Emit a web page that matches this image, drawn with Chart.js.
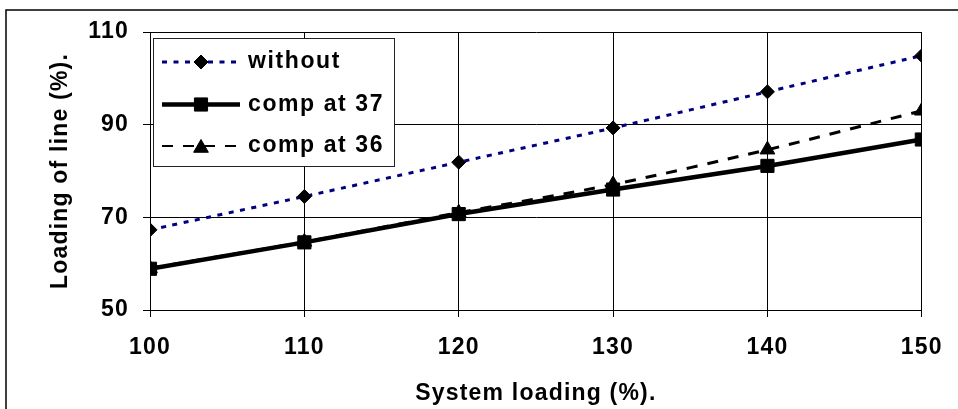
<!DOCTYPE html>
<html><head><meta charset="utf-8">
<script src="https://cdn.jsdelivr.net/npm/chart.js@4"></script>
<style>html,body{margin:0;padding:0;background:#fff;overflow:hidden}#wrap{width:958px;height:409px;position:relative}</style>
</head><body><div id="wrap"><canvas id="c" width="958" height="409"></canvas></div>
<script>
const systemLoading = [100, 110, 120, 130, 140, 150];
const withoutComp = [67.3, 74.5, 81.9, 89.3, 97.1, 104.9];
const compAt37 = [58.9, 64.6, 70.7, 76.0, 81.1, 86.8];
const compAt36 = [59.0, 64.7, 71.0, 77.1, 84.6, 93.0];
const seriesNames = ['without', 'comp at 37', 'comp at 36'];
const xAxisTitle = 'System loading (%).';
const yAxisTitle = 'Loading of line (%).';

const FONT = "'Liberation Sans', Arial, sans-serif";
const pts = arr => systemLoading.map((x, i) => ({x: x, y: arr[i]}));

const legendPlugin = {
  id: 'boxLegend',
  afterDraw(chart) {
    const ctx = chart.ctx;
    ctx.save();
    // outer frame
    ctx.strokeStyle = '#000';
    ctx.lineWidth = 1.5;
    ctx.setLineDash([]);
    ctx.beginPath();
    ctx.moveTo(6, 409); ctx.lineTo(6, 10); ctx.lineTo(958, 10);
    ctx.stroke();
    // legend box
    const bx = 153, by = 38, bw = 241, bh = 128;
    ctx.fillStyle = '#fff';
    ctx.fillRect(bx, by, bw, bh);
    ctx.strokeStyle = '#222';
    ctx.lineWidth = 1;
    ctx.strokeRect(bx + 0.5, by + 0.5, bw, bh);
    const rows = [62, 104.5, 146];
    chart.data.datasets.forEach((ds, i) => {
      const y = rows[i];
      ctx.save();
      ctx.strokeStyle = ds.borderColor;
      ctx.lineWidth = ds.legendLineWidth || ds.borderWidth;
      ctx.setLineDash(ds.borderDash || []);
      ctx.beginPath();
      ctx.moveTo(162, y); ctx.lineTo(240, y);
      ctx.stroke();
      ctx.restore();
      ctx.fillStyle = '#000';
      ctx.strokeStyle = '#000';
      ctx.setLineDash([]);
      Chart.helpers.drawPoint(ctx, {
        pointStyle: ds.pointStyle, radius: ds.pointRadius, borderWidth: 1, rotation: 0
      }, 201, ds.pointStyle === 'triangle' ? y + 2 : y);
      ctx.fillStyle = '#000';
      ctx.font = "bold 23px " + FONT;
      ctx.letterSpacing = '1.6px';
      ctx.textBaseline = 'middle';
      ctx.textAlign = 'left';
      ctx.fillText(ds.label, 248, y);
    });
    ctx.restore();
  }
};

new Chart(document.getElementById('c'), {
  type: 'line',
  data: {
    datasets: [
      {label: seriesNames[0], data: pts(withoutComp), borderColor: '#000080', borderWidth: 3,
       borderDash: [5, 6.5], pointStyle: 'rectRot', pointRadius: 7,
       pointBackgroundColor: '#000', pointBorderColor: '#000', pointBorderWidth: 1, tension: 0.25},
      {label: seriesNames[1], data: pts(compAt37), borderColor: '#000', borderWidth: 4.5,
       pointStyle: 'rect', pointRadius: 9.3,
       pointBackgroundColor: '#000', pointBorderColor: '#000', pointBorderWidth: 1, tension: 0},
      {label: seriesNames[2], data: pts(compAt36), borderColor: '#000', borderWidth: 3, legendLineWidth: 2.2,
       borderDash: [11, 10], pointStyle: 'triangle', pointRadius: 8.5,
       pointBackgroundColor: '#000', pointBorderColor: '#000', pointBorderWidth: 1, tension: 0.3}
    ]
  },
  options: {
    responsive: false,
    animation: false,
    events: [],
    layout: {padding: {left: 0, right: 32, top: 32, bottom: 0}},
    plugins: {legend: {display: false}, tooltip: {enabled: false}},
    scales: {
      x: {
        type: 'linear', min: 100, max: 150,
        afterFit(s) { s.height = 99; },
        ticks: {stepSize: 10, color: '#000', padding: 17, font: {family: FONT, size: 23, weight: 'bold'}},
        grid: {color: '#000', lineWidth: 1, tickLength: 7, tickColor: '#000'},
        border: {color: '#000', width: 1},
        title: {display: true, text: xAxisTitle, color: '#000', padding: {top: 0, bottom: 2},
                font: {family: FONT, size: 23, weight: 'bold'}}
      },
      y: {
        min: 50, max: 110,
        afterFit(s) { s.width = 150; },
        ticks: {stepSize: 20, color: '#000', padding: 14, font: {family: FONT, size: 23, weight: 'bold'}},
        grid: {color: '#000', lineWidth: 1, tickLength: 7, tickColor: '#000'},
        border: {color: '#000', width: 1},
        title: {display: true, text: yAxisTitle, color: '#000', padding: {top: 47, bottom: 0},
                font: {family: FONT, size: 23, weight: 'bold'}}
      }
    }
  },
  plugins: [{
    id: 'ctxSetup',
    beforeDraw(chart) {
      chart.ctx.fillStyle = '#000';
      chart.ctx.strokeStyle = '#000';
      chart.ctx.letterSpacing = '1.2px';
    }
  }, legendPlugin]
});
</script></body></html>
